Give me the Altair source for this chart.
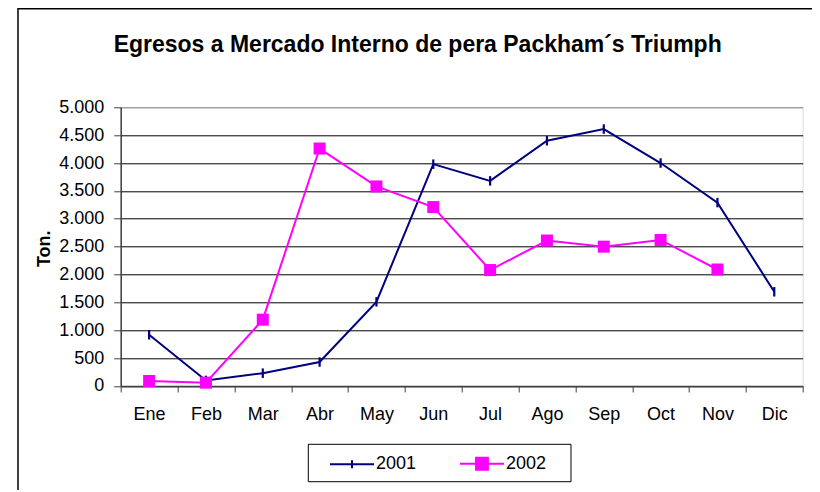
import altair as alt
import pandas as pd

meses = ["Ene", "Feb", "Mar", "Abr", "May", "Jun", "Jul", "Ago", "Sep", "Oct", "Nov", "Dic"]
t2001 = [920, 100, 230, 430, 1510, 3980, 3680, 4400, 4610, 4000, 3290, 1690]
t2002 = [90, 60, 1190, 4260, 3580, 3210, 2080, 2610, 2500, 2620, 2090, None]
series = ["2001", "2002"]
colors = ["#000080", "#FF00FF"]
y_ticks = list(range(0, 5001, 500))

rows = []
for m, v in zip(meses, t2001):
    rows.append({"mes": m, "ton": v, "serie": "2001"})
for m, v in zip(meses, t2002):
    if v is not None:
        rows.append({"mes": m, "ton": v, "serie": "2002"})
df = pd.DataFrame(rows)

FONT = "Liberation Sans"
PW, PH = 682, 278.7

x_enc = alt.X(
    "mes:N",
    sort=meses,
    bandPosition=0.5,
    scale=alt.Scale(type="band", domain=meses, paddingInner=0, paddingOuter=0),
    axis=alt.Axis(
        title=None, labelAngle=0, tickBand="extent", tickSize=6, labelPadding=27.5,
        labelBaseline="alphabetic", labelFontSize=18, labelFont=FONT, labelColor="black",
        domainColor="#404040", domainWidth=1.5, tickColor="#404040", grid=False,
    ),
)
y_enc = alt.Y(
    "ton:Q",
    scale=alt.Scale(domain=[0, 5000], nice=False),
    axis=alt.Axis(
        values=y_ticks, title="Ton.", titleFontSize=18, titleFont=FONT, titleFontWeight="bold",
        titleColor="black", titleX=-70.7, titleY=141, titleAlign="center",
        titleBaseline="alphabetic", titleAngle=270,
        labelExpr="replace(format(datum.value, ','), ',', '.')",
        labelFontSize=18, labelFont=FONT, labelColor="black", labelPadding=10,
        tickSize=7, tickColor="#404040", domainColor="#404040", domainWidth=1.5,
        grid=True, gridWidth=1,
        gridColor={"condition": {"test": "datum.value == 5000", "value": "#808080"}, "value": "black"},
    ),
)

base = alt.Chart(df)

one = pd.DataFrame({"a": [0]})
border = alt.Chart(one).mark_rect(fill="white", fillOpacity=0, stroke="black", strokeWidth=1.5).encode(
    x=alt.value(-102.7), x2=alt.value(720), y=alt.value(-98.5), y2=alt.value(400)
)
legend_box = alt.Chart(one).mark_rect(fill="white", stroke="black", strokeWidth=1).encode(
    x=alt.value(187.6), x2=alt.value(450.3), y=alt.value(337), y2=alt.value(374.4)
)

line01 = base.transform_filter("datum.serie == '2001'").mark_line(color=colors[0], strokeWidth=2).encode(x=x_enc, y=y_enc)
line02 = base.transform_filter("datum.serie == '2002'").mark_line(color=colors[1], strokeWidth=2).encode(x=x_enc, y=y_enc)
pts01 = base.transform_filter("datum.serie == '2001'").mark_point(
    shape="M0,-1V1", filled=False, stroke=colors[0], strokeWidth=2.2, size=90, opacity=1
).encode(x=x_enc, y=y_enc)
pts02 = base.transform_filter("datum.serie == '2002'").mark_square(
    color=colors[1], size=144, opacity=1
).encode(x=x_enc, y=y_enc)

leg = alt.Legend(
    title=None, orient="none", legendX=208.3, legendY=333.4, direction="horizontal",
    symbolSize=1936, symbolStrokeWidth=2, symbolOpacity=1, labelFontSize=18, labelFont=FONT,
    labelColor="black", labelOffset=1, columnPadding=39, padding=0,
)
shapes = ["M-1,0H1M0,-0.18V0.18", "M-1,0H1M-0.27,-0.27H0.27V0.27H-0.27Z"]
legend_layer = base.mark_point(filled=True, opacity=0, strokeWidth=2).encode(
    x=x_enc, y=y_enc,
    shape=alt.Shape("serie:N", scale=alt.Scale(domain=series, range=shapes), legend=leg),
    fill=alt.Fill("serie:N", scale=alt.Scale(domain=series, range=colors), legend=leg),
    stroke=alt.Stroke("serie:N", scale=alt.Scale(domain=series, range=colors), legend=leg),
)

chart = alt.layer(border, legend_box, line01, line02, pts01, pts02, legend_layer).properties(
    width=PW, height=PH,
    padding={"left": 112.7, "top": 99.3, "right": 9, "bottom": 104},
    autosize=alt.AutoSizeParams(type="none"),
    title=alt.TitleParams(
        "Egresos a Mercado Interno de pera Packham´s Triumph",
        fontSize=23, font=FONT, fontWeight="bold", color="black",
        anchor="middle", frame="group", dx=-44, offset=-66.5, baseline="alphabetic",
    ),
).configure_view(stroke="#808080", strokeWidth=2).configure(background="white")

chart.save("out.html", embed_options={"renderer": "svg", "actions": False})
